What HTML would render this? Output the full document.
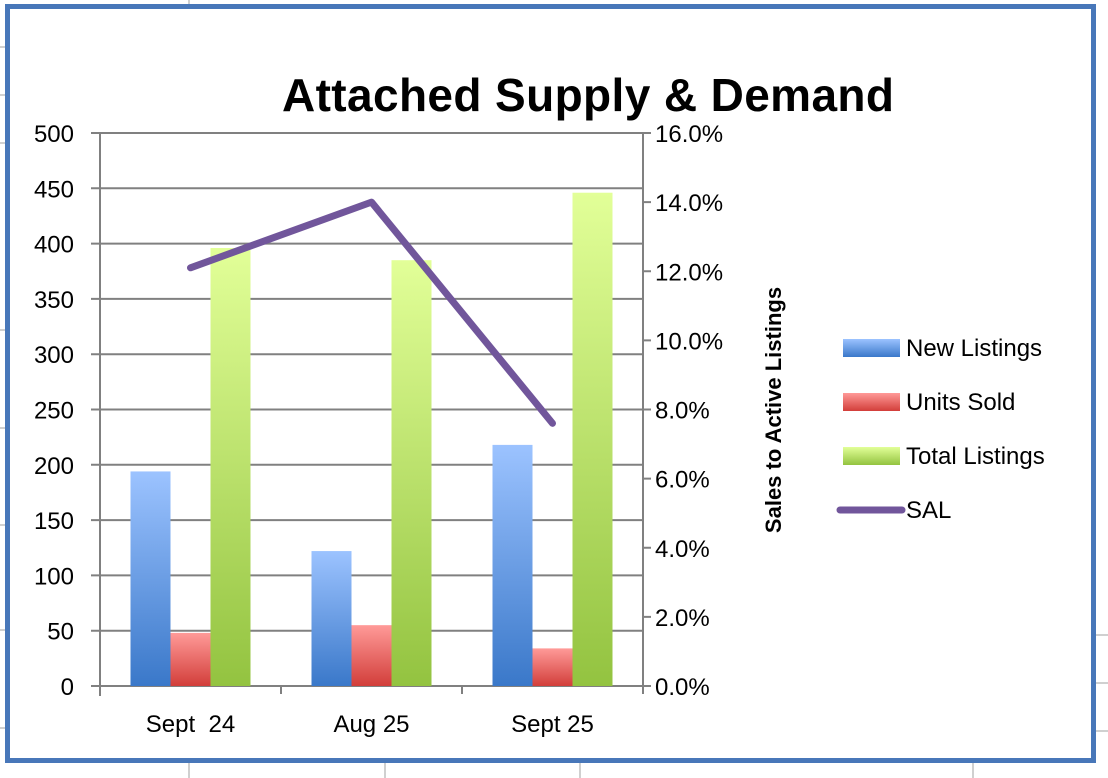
<!DOCTYPE html>
<html><head><meta charset="utf-8"><style>
body{margin:0;background:#fff;}
svg{display:block;font-family:"Liberation Sans",sans-serif;}
</style></head><body>
<svg width="1108" height="778" viewBox="0 0 1108 778">
<defs>
<linearGradient id="gb" x1="0" y1="0" x2="0" y2="1"><stop offset="0" stop-color="#9cc3ff"/><stop offset="1" stop-color="#3a78c9"/></linearGradient>
<linearGradient id="gr" x1="0" y1="0" x2="0" y2="1"><stop offset="0" stop-color="#ff9a98"/><stop offset="1" stop-color="#d23e3a"/></linearGradient>
<linearGradient id="gg" x1="0" y1="0" x2="0" y2="1"><stop offset="0" stop-color="#e2ff98"/><stop offset="1" stop-color="#93c340"/></linearGradient>
</defs>
<g stroke="#d0d0d0" stroke-width="2">
<line x1="0" y1="47" x2="5" y2="47"/><line x1="0" y1="95" x2="5" y2="95"/><line x1="0" y1="143" x2="5" y2="143"/>
<line x1="0" y1="330" x2="5" y2="330"/><line x1="0" y1="428" x2="5" y2="428"/><line x1="0" y1="525" x2="5" y2="525"/><line x1="0" y1="630" x2="5" y2="630"/><line x1="0" y1="728" x2="5" y2="728"/>
<line x1="189" y1="0" x2="189" y2="4"/><line x1="189" y1="763" x2="189" y2="778"/><line x1="385" y1="763" x2="385" y2="778"/><line x1="580" y1="763" x2="580" y2="778"/><line x1="973" y1="763" x2="973" y2="778"/>
<line x1="1096" y1="635" x2="1108" y2="635"/><line x1="1096" y1="683" x2="1108" y2="683"/><line x1="1096" y1="731" x2="1108" y2="731"/>
</g>
<rect x="7.5" y="6.5" width="1086" height="754" fill="#fff" stroke="#4877b9" stroke-width="5"/>
<text x="588" y="111" text-anchor="middle" font-size="46" font-weight="bold" textLength="612">Attached Supply &amp; Demand</text>
<g id="grid"></g>
<g id="bars"></g>
<g id="line"></g>
<g id="axes"></g>
<text transform="translate(781,410) rotate(-90)" text-anchor="middle" font-size="22" font-weight="bold">Sales to Active Listings</text>
<g id="legend"></g>
</svg>
<script>
const categories=["Sept  24","Aug 25","Sept 25"];
const newListings=[194,122,218];
const unitsSold=[48,55,34];
const totalListings=[396,385,446];
const sal=[12.1,14.0,7.6];
const leftTicks=[0,50,100,150,200,250,300,350,400,450,500];
const rightTicks=[0,2,4,6,8,10,12,14,16];
const NS="http://www.w3.org/2000/svg";
const X0=100,X1=643,Y0=686,Y1=133;
const catW=(X1-X0)/categories.length;
const yL=v=>Y0-(v/500)*(Y0-Y1);
const yR=v=>Y0-(v/16)*(Y0-Y1);
const xc=i=>X0+catW*(i+0.5);
function mk(t,a,p){const e=document.createElementNS(NS,t);for(const k in a)e.setAttribute(k,a[k]);(p||document.querySelector('svg')).appendChild(e);return e;}
const grid=document.getElementById('grid'),axes=document.getElementById('axes'),bars=document.getElementById('bars');
leftTicks.forEach(v=>{
 const l=mk('line',{x1:91,x2:X1,y1:yL(v),y2:yL(v),stroke:'#808080','stroke-width':2},grid);
 
 
 const t=mk('text',{x:74,y:yL(v)+9,'text-anchor':'end','font-size':24},axes);t.textContent=v;
 
 
});
rightTicks.forEach(v=>{
 const l=mk('line',{x1:X1,x2:X1+8,y1:yR(v),y2:yR(v),stroke:'#808080','stroke-width':2},axes);
 
 
 const t=mk('text',{x:655,y:yR(v)+9,'font-size':24},axes);t.textContent=v.toFixed(1)+'%';
 
 
});
let a=mk('line',{x1:X0,x2:X0,y1:Y1,y2:Y0+10,stroke:'#808080','stroke-width':2},axes);


a=mk('line',{x1:X1,x2:X1,y1:Y1,y2:Y0,stroke:'#808080','stroke-width':2},axes);


for(let i=0;i<=categories.length;i++){
 const l=mk('line',{x1:X0+catW*i,x2:X0+catW*i,y1:Y0,y2:Y0+8,stroke:'#808080','stroke-width':2},axes);
 
 
}
categories.forEach((c,i)=>{
 const t=mk('text',{x:xc(i),y:732,'text-anchor':'middle','font-size':24},axes);t.textContent=c;
 t.style.whiteSpace='pre';
 
 
});
const series=[[newListings,'url(#gb)','new-listings-bar'],[unitsSold,'url(#gr)','units-sold-bar'],[totalListings,'url(#gg)','total-listings-bar']];
const bw=40;
categories.forEach((c,i)=>{
 series.forEach((s,j)=>{
  const x=xc(i)-60+j*bw,v=s[0][i];
  const r=mk('rect',{x:x,y:yL(v),width:bw,height:Y0-yL(v),fill:s[1]},bars);
  
  
 });
});
const pl=mk('polyline',{points:sal.map((v,i)=>xc(i)+','+yR(v)).join(' '),fill:'none',stroke:'#71569b','stroke-width':7,'stroke-linejoin':'round','stroke-linecap':'round'},document.getElementById('line'));


const leg=document.getElementById('legend');
const items=[['url(#gb)','New Listings'],['url(#gr)','Units Sold'],['url(#gg)','Total Listings'],['line','SAL']];
items.forEach((it,k)=>{
 const cy=348+k*54;
 let sw;
 if(it[0]==='line') sw=mk('line',{x1:840,x2:902,y1:cy,y2:cy,stroke:'#71569b','stroke-width':7,'stroke-linecap':'round'},leg);
 else sw=mk('rect',{x:843,y:cy-9,width:57,height:18,fill:it[0]},leg);
 
 
 const t=mk('text',{x:906,y:cy+8,'font-size':24},leg);t.textContent=it[1];
 
 
});
</script>
</body></html>
